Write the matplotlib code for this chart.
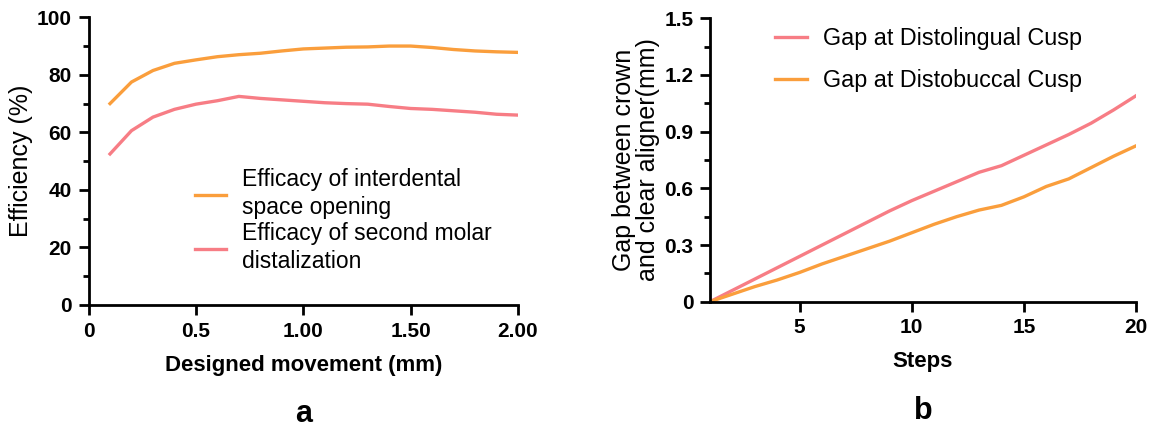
import numpy as np
import matplotlib
matplotlib.use('Agg')
import matplotlib.pyplot as plt
from matplotlib.ticker import MultipleLocator, FixedLocator

# Panel a: efficiency vs designed movement
movement = [0.1, 0.2, 0.3, 0.4, 0.5, 0.6, 0.7, 0.8, 0.9, 1.0,
            1.1, 1.2, 1.3, 1.4, 1.5, 1.6, 1.7, 1.8, 1.9, 2.0]
space_opening = [70.0, 77.5, 81.5, 84.0, 85.2, 86.3, 87.0, 87.5, 88.3, 89.0,
                 89.3, 89.6, 89.7, 90.0, 90.0, 89.5, 88.8, 88.3, 88.0, 87.8]
molar_distal = [52.5, 60.6, 65.3, 68.0, 69.8, 71.0, 72.5, 71.8, 71.3, 70.8,
                70.3, 70.0, 69.8, 69.0, 68.3, 68.0, 67.5, 67.0, 66.3, 66.0]

# Panel b: gap vs steps
steps = list(range(1, 21))
gap_lingual = [0.0, 0.06, 0.12, 0.18, 0.24, 0.30, 0.36, 0.42, 0.48, 0.535,
               0.585, 0.635, 0.685, 0.72, 0.775, 0.83, 0.885, 0.945, 1.015, 1.09]
gap_buccal = [0.0, 0.04, 0.08, 0.115, 0.155, 0.20, 0.24, 0.28, 0.32, 0.365,
              0.41, 0.45, 0.485, 0.51, 0.555, 0.61, 0.65, 0.71, 0.77, 0.825]

ORANGE = '#FA9E3C'
PINK = '#F77D85'

plt.rcParams['font.family'] = ['Liberation Sans', 'DejaVu Sans']

fig = plt.figure(figsize=(11.56, 4.28), dpi=100)
ax1 = fig.add_axes([0.0766, 0.2874, 0.3715, 0.6722])
ax2 = fig.add_axes([0.6142, 0.2951, 0.3685, 0.6621])


def style_axes(ax):
    for side in ['top', 'right']:
        ax.spines[side].set_visible(False)
    for side in ['left', 'bottom']:
        ax.spines[side].set_linewidth(2.0)
    ax.tick_params(which='major', direction='out', length=7, width=2.0,
                   labelsize=15, pad=5)
    ax.tick_params(which='minor', direction='out', length=4, width=2.0)
    for lab in ax.get_xticklabels() + ax.get_yticklabels():
        lab.set_fontweight('bold')


# Panel a
ax1.plot(movement, space_opening, color=ORANGE, lw=2.4,
         label='Efficacy of interdental\nspace opening')
ax1.plot(movement, molar_distal, color=PINK, lw=2.4,
         label='Efficacy of second molar\ndistalization')
ax1.set_xlim(0, 2.0)
ax1.set_ylim(0, 100)
ax1.set_xticks([0, 0.5, 1.0, 1.5, 2.0])
ax1.set_xticklabels(['0', '0.5', '1.00', '1.50', '2.00'])
ax1.yaxis.set_major_locator(MultipleLocator(20))
ax1.yaxis.set_minor_locator(MultipleLocator(10))
ax1.set_ylabel('Efficiency (%)', fontsize=18, labelpad=3)
ax1.set_xlabel('Designed movement (mm)', fontsize=16, fontweight='bold',
               labelpad=10)
style_axes(ax1)
leg1 = ax1.legend(loc='upper left', bbox_to_anchor=(0.248, 0.475),
                  frameon=False, fontsize=16.5, handlelength=1.35,
                  handletextpad=0.7, labelspacing=0.15, borderpad=0,
                  borderaxespad=0)
for t in leg1.get_texts():
    t.set_linespacing(1.26)
ax1.text(0.5, -0.38, 'a', transform=ax1.transAxes, ha='center',
         va='center', fontsize=22, fontweight='bold')

# Panel b
ax2.plot(steps, gap_lingual, color=PINK, lw=2.4,
         label='Gap at Distolingual Cusp')
ax2.plot(steps, gap_buccal, color=ORANGE, lw=2.4,
         label='Gap at Distobuccal Cusp')
ax2.set_xlim(1, 20)
ax2.set_ylim(0, 1.5)
ax2.xaxis.set_major_locator(FixedLocator([5, 10, 15, 20]))
ax2.yaxis.set_major_locator(MultipleLocator(0.3))
ax2.yaxis.set_minor_locator(MultipleLocator(0.15))
ax2.set_yticks([0, 0.3, 0.6, 0.9, 1.2, 1.5])
ax2.set_yticklabels(['0', '0.3', '0.6', '0.9', '1.2', '1.5'])
ax2.set_ylabel('Gap between crown\nand clear aligner(mm)', fontsize=18,
               labelpad=3, linespacing=1.0)
ax2.set_xlabel('Steps', fontsize=16, fontweight='bold', labelpad=10)
style_axes(ax2)
ax2.legend(loc='upper left', bbox_to_anchor=(0.153, 0.968), frameon=False,
           fontsize=16.8, handlelength=1.35, handletextpad=0.7,
           labelspacing=0.79, borderpad=0, borderaxespad=0)
ax2.text(0.5, -0.385, 'b', transform=ax2.transAxes, ha='center',
         va='center', fontsize=22, fontweight='bold')

fig.savefig('out.png', dpi=100)
